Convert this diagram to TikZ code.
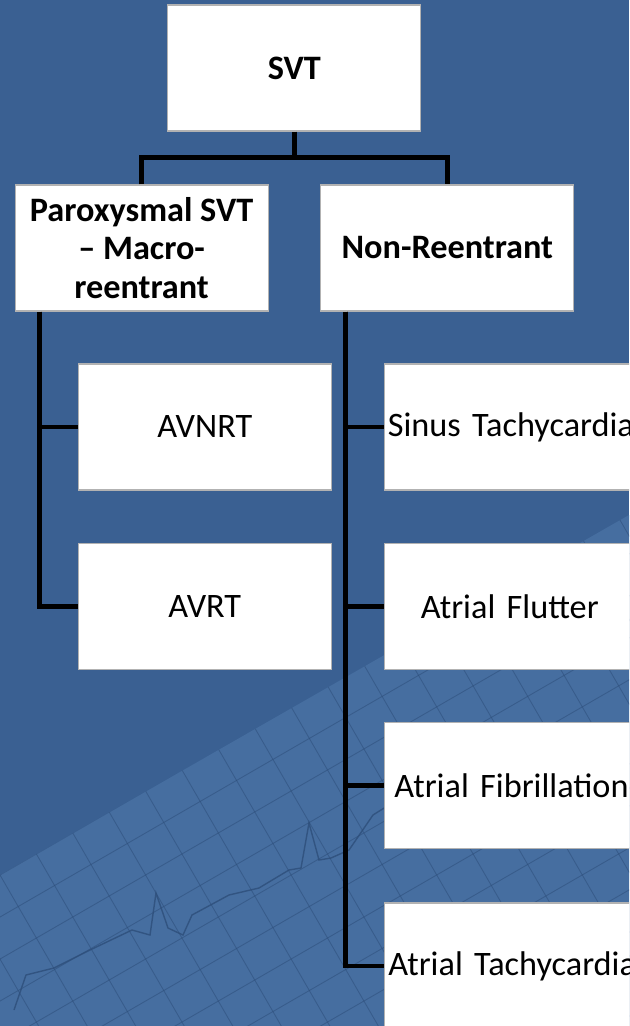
\documentclass[tikz,border=0pt]{standalone}
\usepackage{fontspec}
\setmainfont{Carlito}
\usetikzlibrary{calc}
\definecolor{slideblue}{RGB}{58,96,146}
\definecolor{paperblue}{RGB}{70,110,160}
\definecolor{gridblue}{RGB}{45,78,122}
\tikzstyle{box} = [rectangle, fill=white, draw=black!30, line width=0.6pt,
					minimum width=5.06cm, minimum height=2.52cm, inner sep=0pt,
					font=\fontsize{19.5}{21.8}\selectfont, align=center]
\tikzstyle{head} = [box, font=\fontsize{19.5}{21.8}\selectfont\bfseries]
\tikzstyle{leaf} = [box, anchor=west, text width=12cm, align=left]
\tikzstyle{link} = [line width=2.5pt, black]
\tikzstyle{gridline} = [line width=0.5pt, gridblue, opacity=0.55]

\begin{document}
\begin{tikzpicture}[x=0.02cm, y=-0.02cm]

	% Background
	\useasboundingbox (0,0) rectangle (629,1026);
	\clip (0,0) rectangle (629,1026);
	\fill[slideblue] (0,0) rectangle (629,1026);
	\fill[paperblue] (0,875) -- (629,515) -- (629,1026) -- (0,1026) -- cycle;
	\begin{scope}
		\clip (0,875) -- (629,515) -- (629,1026) -- (0,1026) -- cycle;
		\foreach \k in {-12,...,24}
		{
			\draw[gridline] ({\k*36.4-866},{875+\k*21+500}) -- ({\k*36.4+866},{875+\k*21-500});
			\draw[gridline] ({\k*36.4-500},{875-\k*21-866}) -- ({\k*36.4+500},{875-\k*21+866});
		};
		% ECG trace
		\draw[gridblue, line width=0.8pt, opacity=0.8] (14,1010) -- (26,975) -- (54,968) -- (90,950) -- (132,930)
			-- (150,935) -- (156,893) -- (168,928) -- (183,935) -- (192,915) -- (229,895) -- (259,888) -- (289,870)
			-- (301,868) -- (309,823) -- (319,860) -- (331,858) -- (349,850) -- (373,815) -- (397,800);
	\end{scope}

	% Nodes
	\node[head] (svt)   at (294.4,68)    {SVT};
	\node[head] (parox) at (141.6,248)   {Paroxysmal SVT\\– Macro-\\reentrant};
	\node[head] (non)   at (447.3,248)   {Non-Reentrant};
	\node[box]  (avnrt) at (204.8,427)   {AVNRT};
	\node[box]  (avrt)  at (204.8,606.5) {AVRT};
	\node[leaf, inner xsep=0.06cm] (sinus)   at (384.3,427)   {Sinus Tachycardia};
	\node[leaf, inner xsep=0.72cm] (flutter) at (384.3,606.5) {Atrial Flutter};
	\node[leaf, inner xsep=0.19cm] (fib)     at (384.3,785.5) {Atrial Fibrillation};
	\node[leaf, inner xsep=0.07cm] (tach)    at (384.3,966)   {Atrial Tachycardia};

	% Connectors
	\coordinate (fork) at ($(svt.south)+(0,26)$);
	\draw[link] (svt.south) -- (fork);
	\draw[link] (parox.north) |- (fork) -| (non.north);

	\coordinate (ltrunk) at ($(parox.south west)+(25,0)$);
	\foreach \n in {avnrt,avrt}
	{
		\draw[link] (ltrunk) |- (\n.west);
	};
	\coordinate (rtrunk) at ($(non.south west)+(25,0)$);
	\foreach \n in {sinus,flutter,fib,tach}
	{
		\draw[link] (rtrunk) |- (\n.west);
	};

\end{tikzpicture}
\end{document}
